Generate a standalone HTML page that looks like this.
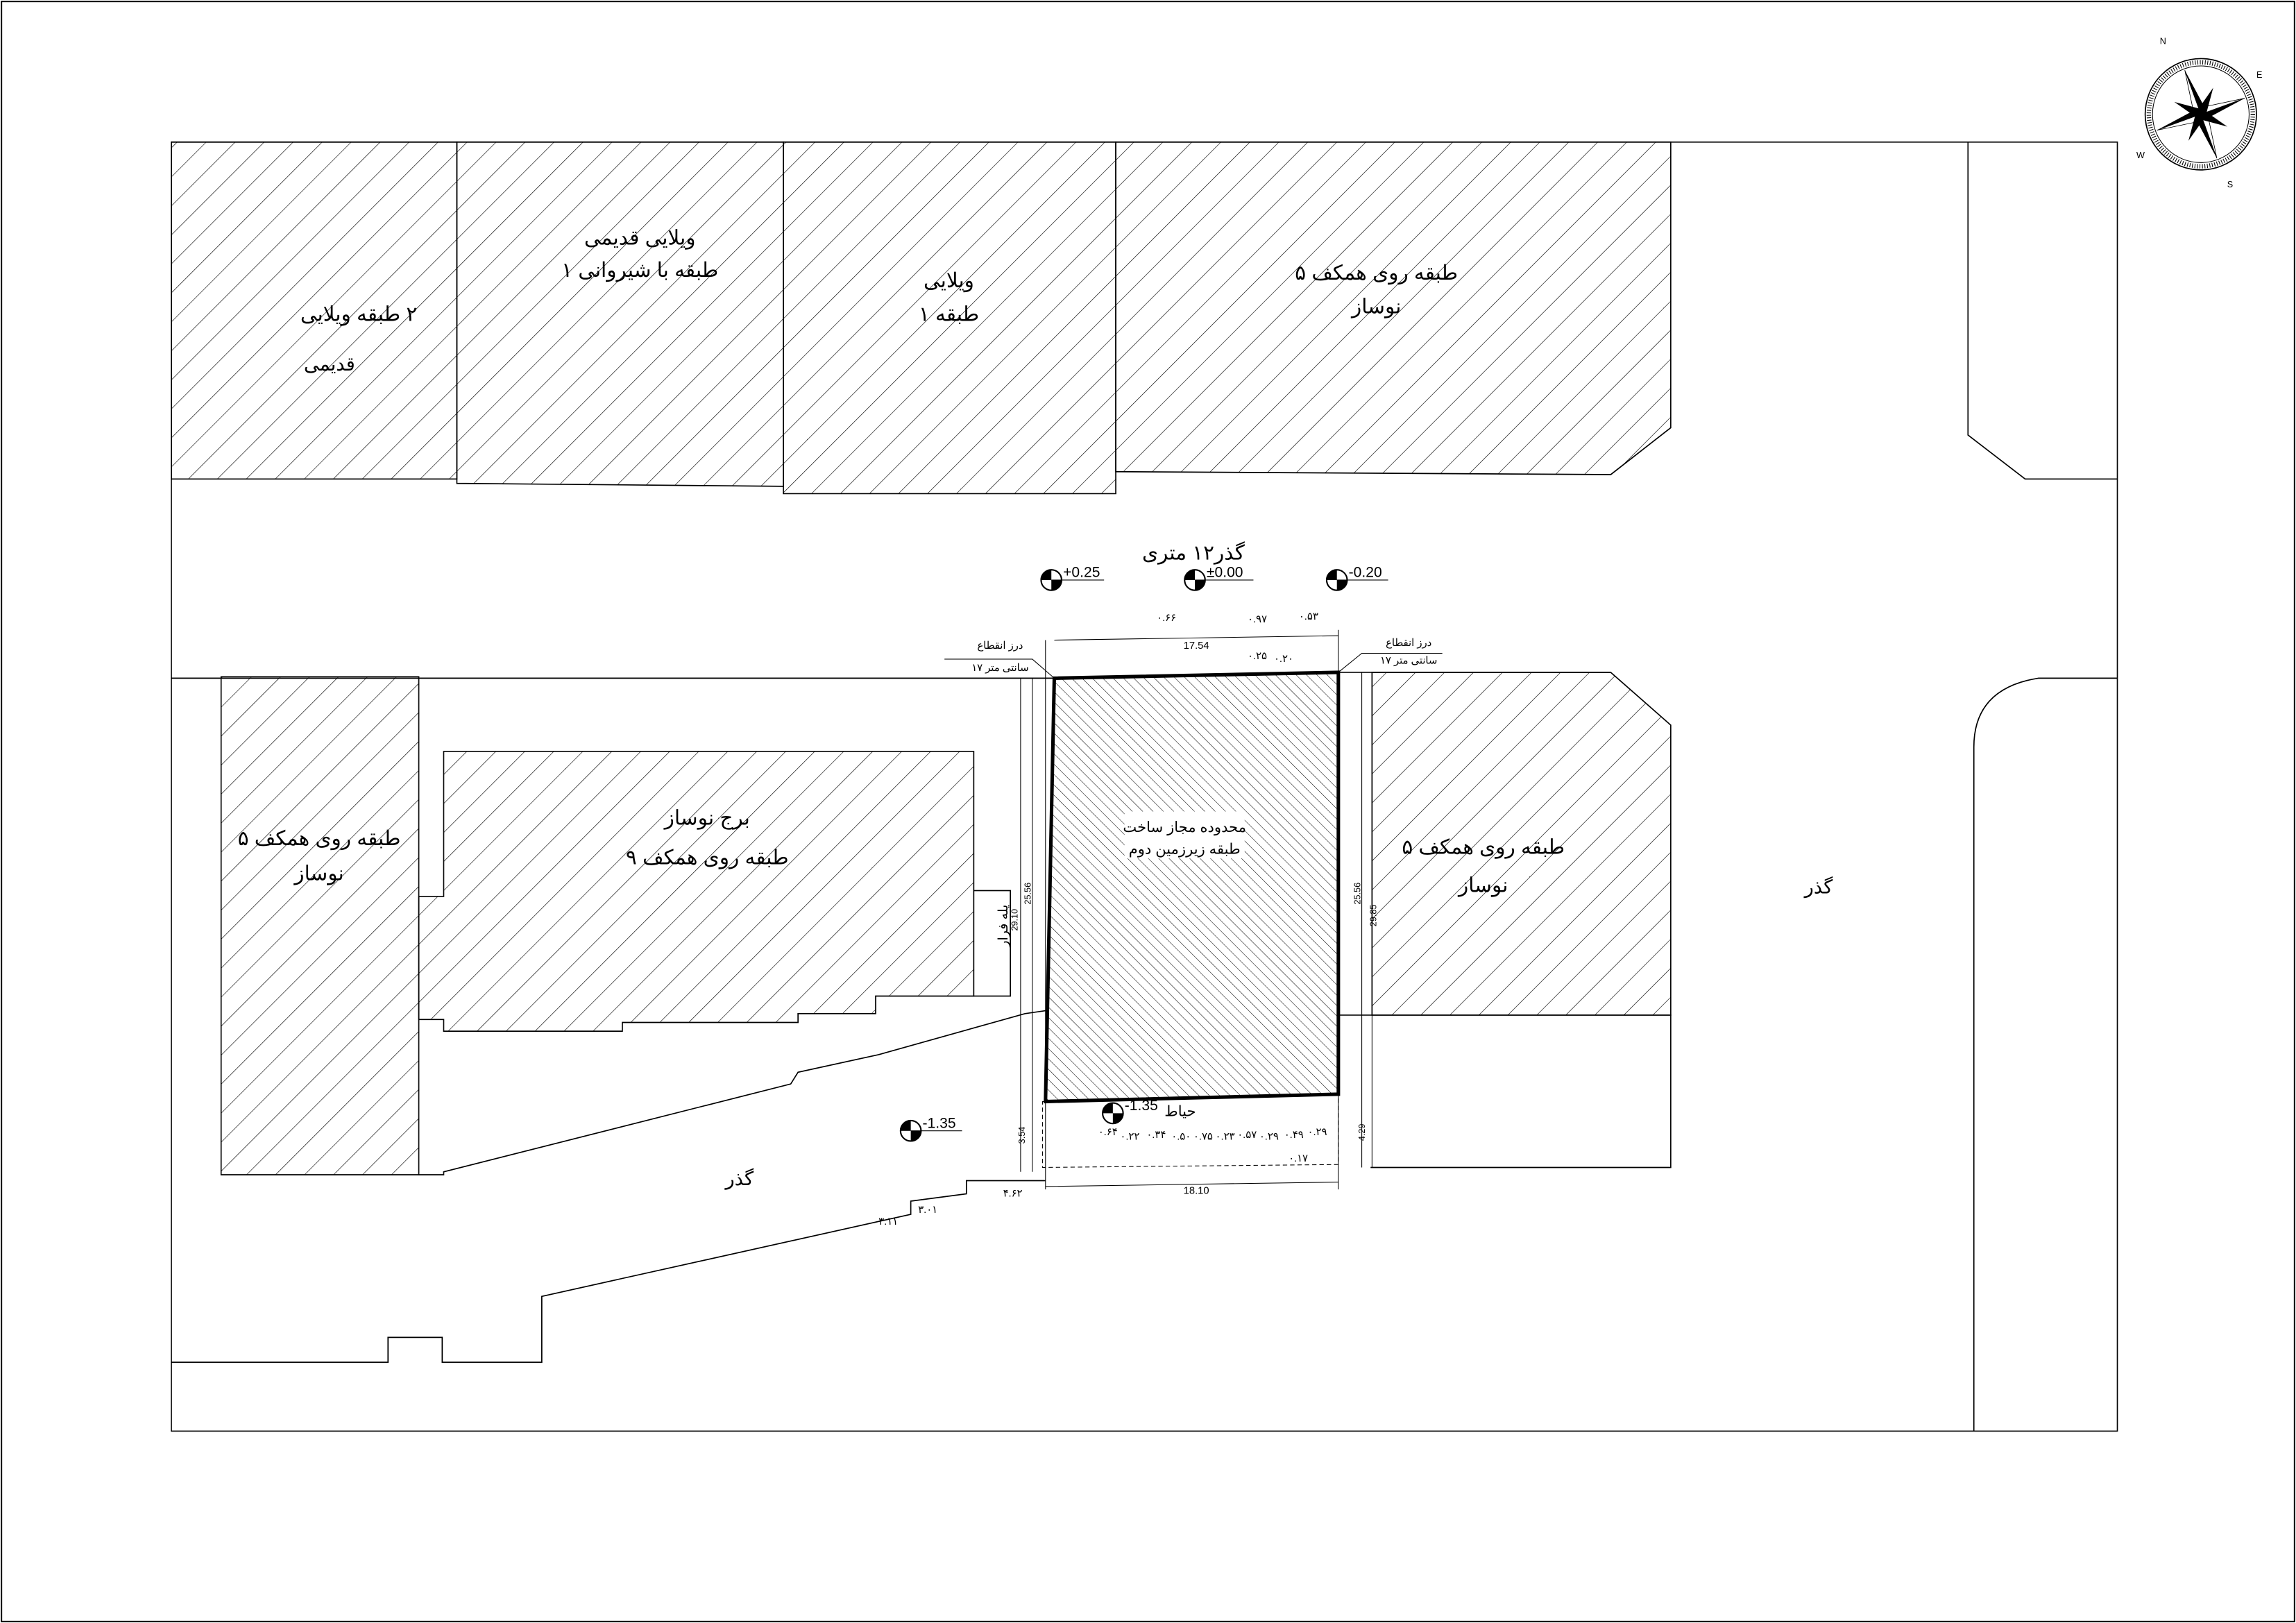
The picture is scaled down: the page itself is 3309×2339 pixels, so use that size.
<!DOCTYPE html>
<html><head><meta charset="utf-8"><style>
html,body{margin:0;padding:0;background:#fff}
svg{display:block}
text{font-family:"Liberation Sans","Noto Sans CJK SC",sans-serif;fill:#000}
</style></head><body>
<svg width="3309" height="2339" viewBox="0 0 1568 1108" preserveAspectRatio="none" xmlns="http://www.w3.org/2000/svg">
<defs>
<pattern id="h1" patternUnits="userSpaceOnUse" width="14" height="14" patternTransform="rotate(45)">
<line x1="0" y1="0" x2="0" y2="14" stroke="#000" stroke-width="0.6"/></pattern>
<pattern id="h2" patternUnits="userSpaceOnUse" width="5" height="5" patternTransform="rotate(-45)">
<line x1="0" y1="0" x2="0" y2="5" stroke="#000" stroke-width="0.5"/></pattern>
</defs>
<rect x="0" y="0" width="1568" height="1108" fill="#fff"/>
<rect x="1" y="1" width="1566" height="1106" fill="none" stroke="#000" stroke-width="1"/>
<g fill="none" stroke="#000" stroke-width="0.8">
<rect x="117" y="97" width="1329" height="880"/>
<polyline points="1344,97 1344,297 1383,327 1446,327"/>
<path d="M1446,463 L1392,463 Q1348,470 1348,510 L1348,977"/>
<polygon points="117,97 312,97 312,327 117,327" fill="url(#h1)"/>
<polygon points="312,97 535,97 535,332 312,330" fill="url(#h1)"/>
<polygon points="535,97 762,97 762,337 535,337" fill="url(#h1)"/>
<polygon points="762,97 1141,97 1141,292 1100,324 762,322" fill="url(#h1)"/>
<line x1="117" y1="463" x2="720" y2="463"/>
<line x1="914" y1="459" x2="1100" y2="459"/>
<polygon points="151,462 286,462 286,802 151,802" fill="url(#h1)"/>
<polygon points="303,513 665,513 665,680 598,680 598,692 545,692 545,698 425,698 425,704 303,704 303,696 286,696 286,612 303,612" fill="url(#h1)"/>
<rect x="665" y="608" width="25" height="72" fill="#fff"/>
<polygon points="937,459 1100,459 1141,495 1141,693 937,693" fill="url(#h1)"/>
<polyline points="914,693 1141,693 1141,797 936,797"/>
<polyline points="286,802 303,802 303,800 540,740 545,732 600,720 700,692 714,690"/>
<polyline points="117,930 265,930 265,913 302,913 302,930 370,930 370,885 622,829 622,820 660,815 660,806 714,806"/>
<line x1="697" y1="463" x2="697" y2="800" stroke-width="0.5"/>
<line x1="705" y1="463" x2="705" y2="800" stroke-width="0.5"/>
<line x1="930" y1="459" x2="930" y2="797" stroke-width="0.5"/>
<line x1="937" y1="459" x2="937" y2="797" stroke-width="0.5"/>
<polygon points="712,752 914,747 914,795 712,797" stroke-dasharray="3,2" stroke-width="0.5"/>
<line x1="720" y1="437" x2="914" y2="434" stroke-width="0.5"/>
<line x1="714" y1="810" x2="914" y2="807" stroke-width="0.5"/>
<line x1="914" y1="430" x2="914" y2="812" stroke-width="0.5"/>
<line x1="714" y1="437" x2="714" y2="812" stroke-width="0.5"/>
<polyline points="645,450 705,450 720,463" stroke-width="0.5"/>
<polyline points="985,446 930,446 914,459" stroke-width="0.5"/>
<polygon points="720,463 914,459 914,747 714,752" fill="url(#h2)" stroke-width="2.4"/>
</g>
<rect x="768" y="554" width="82" height="32" fill="#fff"/>
<g font-size="14" text-anchor="middle">
<text x="245" y="219">٢ طبقه ویلایی</text>
<text x="225" y="253" font-size="13">قدیمی</text>
<text x="437" y="167">ویلایی قدیمی</text>
<text x="437" y="189">۱ طبقه با شیروانی</text>
<text x="648" y="196">ویلایی</text>
<text x="648" y="219">۱ طبقه</text>
<text x="940" y="191">۵ طبقه روی همکف</text>
<text x="940" y="214">نوساز</text>
<text x="815" y="382">گذر۱۲ متری</text>
<text x="218" y="577">۵ طبقه روی همکف</text>
<text x="218" y="601">نوساز</text>
<text x="483" y="563">برج نوساز</text>
<text x="483" y="590">۹ طبقه روی همکف</text>
<text x="1013" y="583">۵ طبقه روی همکف</text>
<text x="1013" y="609">نوساز</text>
<text x="1242" y="610" font-size="13">گذر</text>
<text x="505" y="809" font-size="13">گذر</text>
<text x="809" y="568" font-size="10">محدوده مجاز ساخت</text>
<text x="809" y="583" font-size="10">طبقه زیرزمین دوم</text>
<text x="806" y="762" font-size="10">حیاط</text>
</g>
<g font-size="7" text-anchor="middle">
<text x="683" y="443">درز انقطاع</text><text x="683" y="458">۱۷ سانتی متر</text>
<text x="962" y="441">درز انقطاع</text><text x="962" y="453">۱۷ سانتی متر</text>
<text x="817" y="443">17.54</text><text x="817" y="815">18.10</text>
</g>
<g font-size="6" text-anchor="middle">
<text transform="translate(704,610) rotate(-90)">25.56</text>
<text transform="translate(695,628) rotate(-90)">29.10</text>
<text transform="translate(929,610) rotate(-90)">25.56</text>
<text transform="translate(940,625) rotate(-90)">29.85</text>
<text transform="translate(700,775) rotate(-90)">3.54</text>
<text transform="translate(932,773) rotate(-90)">4.29</text>
<text transform="translate(688,632) rotate(-90)" font-size="9">پله فرار</text>
</g>
<g font-size="7">
<text x="790" y="424">۰.۶۶</text><text x="852" y="425">۰.۹۷</text><text x="887" y="423">۰.۵۳</text>
<text x="852" y="450">۰.۲۵</text><text x="870" y="452">۰.۲۰</text>
<text x="750" y="775">۰.۶۴</text><text x="765" y="778">۰.۲۲</text><text x="783" y="777">۰.۳۴</text>
<text x="800" y="778">۰.۵۰</text><text x="815" y="778">۰.۷۵</text><text x="830" y="778">۰.۲۳</text>
<text x="845" y="777">۰.۵۷</text><text x="860" y="778">۰.۲۹</text><text x="877" y="777">۰.۴۹</text>
<text x="893" y="775">۰.۲۹</text><text x="880" y="793">۰.۱۷</text>
<text x="685" y="817">۴.۶۲</text><text x="627" y="828">۳.۰۱</text><text x="600" y="836">۳.۱۱</text>
</g>
<g font-size="10">
<g transform="translate(718,396)"><circle r="7" fill="#fff" stroke="#000"/><path d="M0,0 L0,-7 A7,7 0 0 0 -7,0Z M0,0 L0,7 A7,7 0 0 0 7,0Z"/><line x1="0" y1="0" x2="36" y2="0" stroke="#000" stroke-width="0.5"/><text x="8" y="-2">+0.25</text></g>
<g transform="translate(816,396)"><circle r="7" fill="#fff" stroke="#000"/><path d="M0,0 L0,-7 A7,7 0 0 0 -7,0Z M0,0 L0,7 A7,7 0 0 0 7,0Z"/><line x1="0" y1="0" x2="40" y2="0" stroke="#000" stroke-width="0.5"/><text x="8" y="-2">±0.00</text></g>
<g transform="translate(913,396)"><circle r="7" fill="#fff" stroke="#000"/><path d="M0,0 L0,-7 A7,7 0 0 0 -7,0Z M0,0 L0,7 A7,7 0 0 0 7,0Z"/><line x1="0" y1="0" x2="35" y2="0" stroke="#000" stroke-width="0.5"/><text x="8" y="-2">-0.20</text></g>
<g transform="translate(622,772)"><circle r="7" fill="#fff" stroke="#000"/><path d="M0,0 L0,-7 A7,7 0 0 0 -7,0Z M0,0 L0,7 A7,7 0 0 0 7,0Z"/><line x1="0" y1="0" x2="35" y2="0" stroke="#000" stroke-width="0.5"/><text x="8" y="-2">-1.35</text></g>
<g transform="translate(760,760)"><circle r="7" fill="#fff" stroke="#000"/><path d="M0,0 L0,-7 A7,7 0 0 0 -7,0Z M0,0 L0,7 A7,7 0 0 0 7,0Z"/><text x="8" y="-2">-1.35</text></g>
</g>
<g transform="translate(1503,78)">
<circle r="38" fill="none" stroke="#000" stroke-width="0.8"/>
<circle r="33" fill="none" stroke="#000" stroke-width="0.5"/>
<circle r="35.5" fill="none" stroke="#000" stroke-width="3" stroke-dasharray="0.5,1.2"/>
<g transform="rotate(-20)">
<polygon points="0,-32 4,-4 0,0" fill="#000"/><polygon points="0,-32 -4,-4 0,0" fill="#fff" stroke="#000" stroke-width="0.4"/>
<polygon points="0,32 -4,4 0,0" fill="#000"/><polygon points="0,32 4,4 0,0" fill="#fff" stroke="#000" stroke-width="0.4"/>
<polygon points="32,0 4,4 0,0" fill="#000"/><polygon points="32,0 4,-4 0,0" fill="#fff" stroke="#000" stroke-width="0.4"/>
<polygon points="-32,0 -4,-4 0,0" fill="#000"/><polygon points="-32,0 -4,4 0,0" fill="#fff" stroke="#000" stroke-width="0.4"/>
<g transform="rotate(45)">
<polygon points="0,-20 3,-3 0,0 -3,-3" fill="#000"/><polygon points="0,20 3,3 0,0 -3,3" fill="#000"/>
<polygon points="20,0 3,3 0,0 3,-3" fill="#000"/><polygon points="-20,0 -3,3 0,0 -3,-3" fill="#000"/>
</g></g>
<g font-size="6"><text x="-28" y="-48">N</text><text x="38" y="-25">E</text><text x="-44" y="30">W</text><text x="18" y="50">S</text></g>
</g>
</svg>
</body></html>
